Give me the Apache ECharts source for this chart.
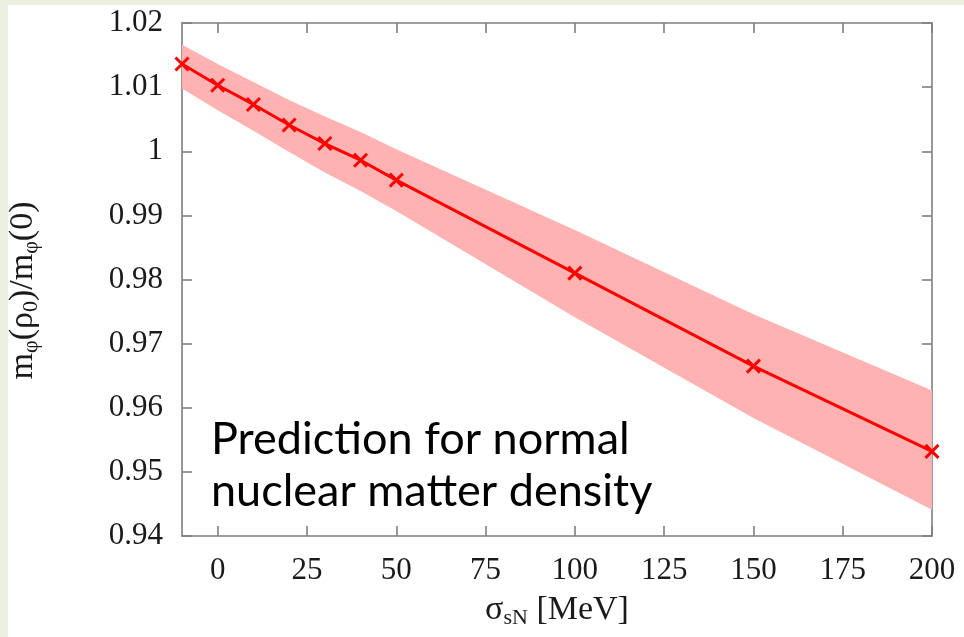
<!DOCTYPE html>
<html>
<head>
<meta charset="utf-8">
<script src="https://cdn.jsdelivr.net/npm/echarts@6/dist/echarts.min.js"></script>
<style>
  html, body { margin: 0; padding: 0; }
  body { width: 964px; height: 637px; background: #ebf1de; position: relative; overflow: hidden; }
  #main { position: absolute; left: 8px; top: 5px; width: 956px; height: 632px; }
</style>
</head>
<body>
<div id="main"></div>
<script>
// sigma_sN [MeV]
const sigma = [-10, 0, 10, 20, 30, 40, 50, 100, 150, 200]
// m_phi(rho0)/m_phi(0) 中心值
const massRatio = [1.0136, 1.0103, 1.0073, 1.0041, 1.0012, 0.9986, 0.9955, 0.9810, 0.9665, 0.9532]
// 误差带上下沿
const bandUpper = [1.0166, 1.0136, 1.0108, 1.0080, 1.0054, 1.0030, 1.0003, 0.9877, 0.9746, 0.9627]
const bandLower = [1.0098, 1.0064, 1.0032, 0.9999, 0.9967, 0.9938, 0.9907, 0.9741, 0.9584, 0.9441]
// 坐标刻度
const xTicks = [0, 25, 50, 75, 100, 125, 150, 175, 200]

const serif = '"Liberation Serif", "DejaVu Serif", serif'
const axisGray = '#7f7f7f'
const textColor = '#1a1a1a'

const myChart = echarts.init(document.querySelector('#main'))

const xBase = {
  type: 'value',
  min: -10,
  max: 200,
  splitLine: { show: false },
  axisLine: { onZero: false, lineStyle: { color: axisGray, width: 1.6 } },
  axisTick: { inside: true, length: 10, customValues: xTicks, lineStyle: { color: axisGray, width: 1.6 } }
}
const yBase = {
  type: 'value',
  min: 0.94,
  max: 1.02,
  interval: 0.01,
  splitLine: { show: false },
  axisLine: { onZero: false, lineStyle: { color: axisGray, width: 1.6 } },
  axisTick: { inside: true, length: 10, lineStyle: { color: axisGray, width: 1.6 } }
}

// 轴标题里的上下标
const nameRich = {
  i: { fontFamily: serif, fontSize: 34, color: textColor, lineHeight: 38 },
  s: { fontFamily: serif, fontSize: 22, color: textColor, lineHeight: 38, verticalAlign: 'bottom', padding: [16, 0, 0, 0] }
}

myChart.setOption({
  backgroundColor: '#ffffff',
  animation: false,
  // v6 默认会把坐标轴文字挤进容器，这里关掉，按像素固定网格
  grid: { left: 174, right: 32, top: 18, bottom: 101, outerBoundsMode: 'none' },
  xAxis: [
    Object.assign({}, xBase, {
      position: 'bottom',
      axisLabel: { customValues: xTicks, margin: 19, fontFamily: serif, fontSize: 31, color: textColor },
      name: '{i|σ}{s|sN}{i| [MeV]}',
      nameLocation: 'middle',
      nameGap: 52,
      nameTextStyle: { rich: nameRich }
    }),
    Object.assign({}, xBase, { position: 'top', axisLabel: { show: false } })
  ],
  yAxis: [
    Object.assign({}, yBase, {
      position: 'left',
      axisLabel: { margin: 19, fontFamily: serif, fontSize: 31, color: textColor },
      name: '{i|m}{s|φ}{i|(ρ}{s|0}{i|)/m}{s|φ}{i|(0)}',
      nameLocation: 'middle',
      nameRotate: 90,
      nameGap: 140,
      nameTextStyle: { rich: nameRich, padding: [0, 22, 0, 0] }
    }),
    Object.assign({}, yBase, { position: 'right', axisLabel: { show: false } })
  ],
  graphic: [
    {
      type: 'text',
      left: 203,
      top: 408,
      z: 10,
      style: {
        text: 'Prediction for normal\nnuclear matter density',
        font: '45px Lato, "Open Sans", sans-serif',
        fill: '#000000',
        lineHeight: 52
      }
    }
  ],
  series: [
    {
      // 误差带
      type: 'custom',
      xAxisIndex: 0,
      yAxisIndex: 0,
      z: 1,
      silent: true,
      data: sigma.map((s, i) => [s, bandLower[i], bandUpper[i]]),
      encode: { x: 0, y: [1, 2] },
      renderItem(params, api) {
        if (params.dataIndex !== 0) return
        const pts = []
        sigma.forEach((s, i) => pts.push(api.coord([s, bandUpper[i]])))
        for (let i = sigma.length - 1; i >= 0; i--) pts.push(api.coord([sigma[i], bandLower[i]]))
        return { type: 'polygon', shape: { points: pts }, style: { fill: '#ffb2b2' } }
      }
    },
    {
      type: 'line',
      xAxisIndex: 0,
      yAxisIndex: 0,
      z: 3,
      data: sigma.map((s, i) => [s, massRatio[i]]),
      lineStyle: { color: '#ff0000', width: 3 },
      symbol: 'path://M0,0L10,10M10,0L0,10',
      symbolSize: 13,
      showSymbol: true,
      itemStyle: { color: '#ff0000', borderColor: '#ff0000', borderWidth: 3 }
    }
  ]
})
</script>
</body>
</html>
